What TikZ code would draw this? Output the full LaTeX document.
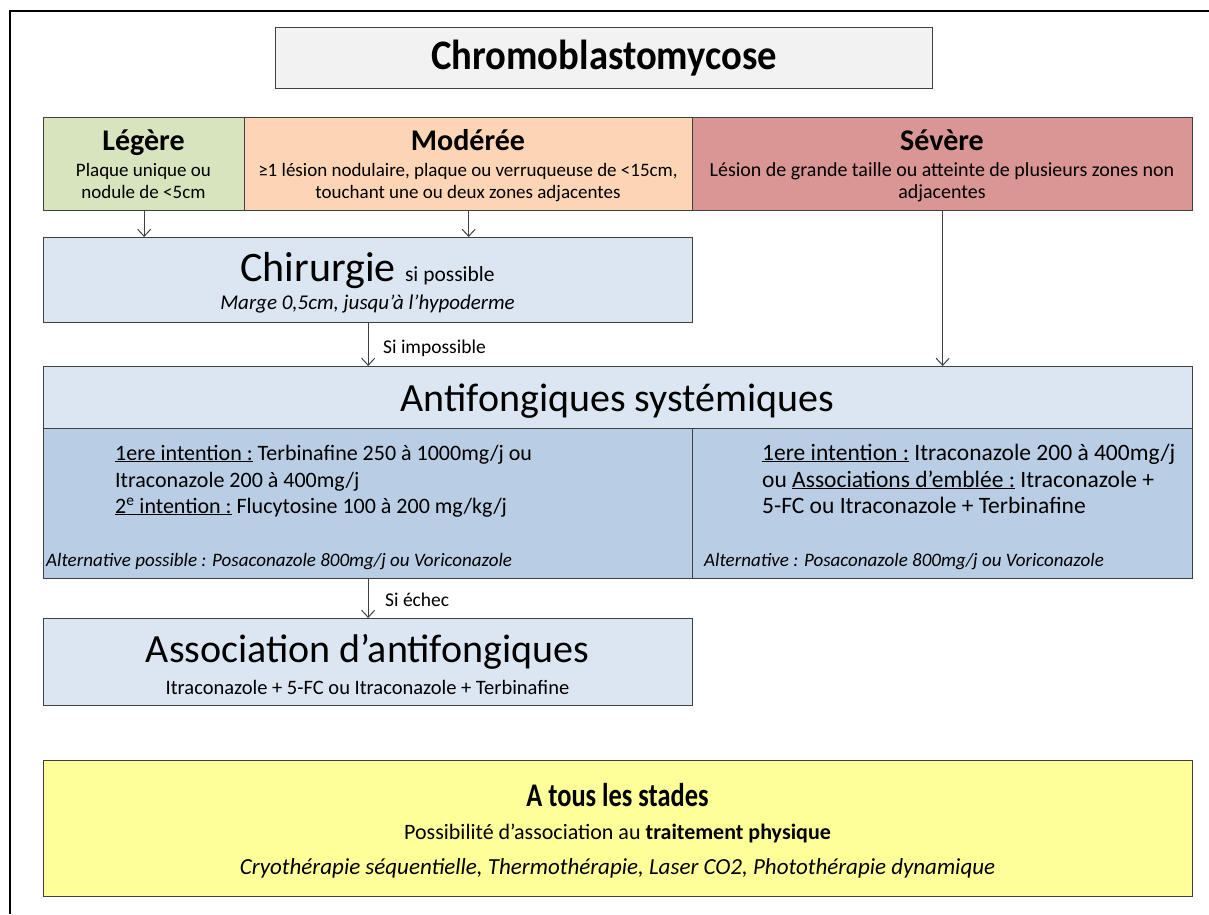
\documentclass[tikz,border=0pt]{standalone}
\usepackage{fontspec}
\usepackage{graphicx}
\setmainfont{Carlito}
\usetikzlibrary{arrows.meta}
\definecolor{bordc}{HTML}{3F3F3F}
\definecolor{arrc}{HTML}{404040}
\definecolor{titlef}{HTML}{F2F2F2}
\definecolor{legf}{HTML}{D7E4BD}
\definecolor{modf}{HTML}{FCD5B5}
\definecolor{sevf}{HTML}{D99694}
\definecolor{lblue}{HTML}{DCE6F2}
\definecolor{mblue}{HTML}{B9CDE5}
\definecolor{yelf}{HTML}{FFFF99}
\tikzset{
  box/.style={draw=bordc, line width=1.3pt, anchor=north west, inner sep=0pt},
  txt/.style={inner sep=0pt, anchor=base},
  lefttxt/.style={inner sep=0pt, anchor=base west},
  head/.style={txt, font=\fontsize{30}{34}\selectfont\bfseries},
  sub/.style={txt, font=\fontsize{19}{22}\selectfont},
  big/.style={txt, font=\fontsize{40}{44}\selectfont},
  bodyl/.style={lefttxt, font=\fontsize{22}{26}\selectfont},
  bodyr/.style={lefttxt, font=\fontsize{23.5}{27}\selectfont},
  alt/.style={lefttxt, font=\fontsize{19}{22}\selectfont\itshape},
  lab/.style={lefttxt, font=\fontsize{19.5}{22}\selectfont},
  arr/.style={draw=arrc, line width=1pt, -{Straight Barb[length=7pt,width=13pt]}}
}
\begin{document}
\begin{tikzpicture}[x=1pt,y=-1pt]
\useasboundingbox (0,0) rectangle (1209,914);
\fill[white] (0,0) rectangle (1209,914);
\draw[line width=2.2pt] (10,914) -- (10,11) -- (1209,11);

% title
\node[box, fill=titlef, minimum width=657pt, minimum height=61pt] (title) at (275,27) {};
\node[txt, anchor=center, font=\fontsize{42}{46}\selectfont\bfseries] (titleT) at (title.center) {\scalebox{0.92}[1]{Chromoblastomycose}};

% severity row
\node[box, fill=legf, minimum width=201pt, minimum height=93pt] (leg) at (43,117) {};
\node[box, fill=modf, minimum width=448pt, minimum height=93pt] (mod) at (244,117) {};
\node[box, fill=sevf, minimum width=500pt, minimum height=93pt] (sev) at (692,117) {};
\node[head] (legT) at (143.5,150) {Légère};
\node[sub] (legA) at (143.5,176) {Plaque unique ou};
\node[sub] (legB) at (143.5,198) {nodule de <5cm};
\node[head] (modT) at (468,150) {Modérée};
\node[sub] (modA) at (468,176) {≥1 lésion nodulaire, plaque ou verruqueuse de <15cm,};
\node[sub] (modB) at (468,198) {touchant une ou deux zones adjacentes};
\node[head] (sevT) at (942,150) {Sévère};
\node[sub, font=\fontsize{20}{23}\selectfont] (sevA) at (942,176) {Lésion de grande taille ou atteinte de plusieurs zones non};
\node[sub, font=\fontsize{20}{23}\selectfont] (sevB) at (942,198) {adjacentes};

% chirurgie
\node[box, fill=lblue, minimum width=649pt, minimum height=85pt] (chir) at (43,237) {};
\node[txt, font=\fontsize{42}{46}\selectfont] (chirT) at (367.5,281) {Chirurgie {\fontsize{21.5}{24}\selectfont si possible}};
\node[txt, font=\fontsize{21}{24}\selectfont\itshape] (chirS) at (367.5,309) {Marge 0,5cm, jusqu’à l’hypoderme};

% antifongiques
\node[box, fill=lblue, minimum width=1149pt, minimum height=62pt] (anti) at (43,366) {};
\node[big] (antiT) at (617.5,411) {Antifongiques systémiques};
\node[box, fill=mblue, minimum width=649pt, minimum height=150pt] (antiL) at (43,428) {};
\node[box, fill=mblue, minimum width=500pt, minimum height=150pt] (antiR) at (692,428) {};
\node[bodyl] (l1) at (115,460) {\underline{1ere intention :} Terbinafine 250 à 1000mg/j ou};
\node[bodyl] (l2) at (115,487) {Itraconazole 200 à 400mg/j};
\node[bodyl] (l3) at (115,513) {\underline{2\textsuperscript{e} intention :} Flucytosine 100 à 200 mg/kg/j};
\node[alt] (lalt) at (46,566) {Alternative possible : Posaconazole 800mg/j ou Voriconazole};
\node[bodyr] (r1) at (762,460) {\underline{1ere intention :} Itraconazole 200 à 400mg/j};
\node[bodyr] (r2) at (762,487) {ou \underline{Associations d’emblée :} Itraconazole +};
\node[bodyr] (r3) at (762,513) {5-FC ou Itraconazole + Terbinafine};
\node[alt] (ralt) at (704,566) {Alternative : Posaconazole 800mg/j ou Voriconazole};

% association
\node[box, fill=lblue, minimum width=649pt, minimum height=87pt] (assoc) at (43,618) {};
\node[big] (assocT) at (367.5,662) {Association d’antifongiques};
\node[txt, font=\fontsize{20.5}{24}\selectfont] (assocS) at (367.5,694) {Itraconazole + 5-FC ou Itraconazole + Terbinafine};

% yellow
\node[box, fill=yelf, minimum width=1149pt, minimum height=136pt] (yel) at (43,760) {};
\node[txt, font=\fontsize{33}{36}\selectfont\bfseries] (yelT) at (617.5,806) {\scalebox{0.8}[1]{A tous les stades}};
\node[txt, font=\fontsize{22}{26}\selectfont] (yelA) at (617.5,839) {Possibilité d’association au \textbf{traitement physique}};
\node[txt, font=\fontsize{23}{27}\selectfont\itshape] (yelB) at (617.5,874) {Cryothérapie séquentielle, Thermothérapie, Laser CO2, Photothérapie dynamique};

% arrows
\draw[arr] (leg.south) -- (leg.south |- chir.north);
\draw[arr] (mod.south) -- (mod.south |- chir.north);
\draw[arr] (sev.south) -- (sev.south |- anti.north);
\draw[arr] (chir.south) -- (chir.south |- anti.north);
\draw[arr] (antiL.south) -- (antiL.south |- assoc.north);
\node[lab] (simp) at (383,353) {Si impossible};
\node[lab] (sech) at (385,606) {Si échec};
\end{tikzpicture}
\end{document}
